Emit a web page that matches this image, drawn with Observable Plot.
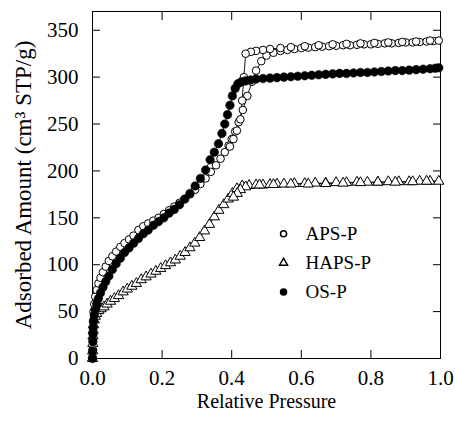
<!DOCTYPE html>
<html><head><meta charset="utf-8">
<script src="https://cdn.jsdelivr.net/npm/d3@7"></script>
<script src="https://cdn.jsdelivr.net/npm/@observablehq/plot@0.6"></script>
<style>body{margin:0;background:#fff}#chart{width:455px;height:430px}</style>
</head><body><div id="chart"></div>
<script>
// APS-P (open circles): adsorption then desorption branch
const apsP_p = [0.000,0.0005,0.001,0.0015,0.002,0.003,0.005,0.008,0.012,0.017,0.023,0.030,0.038,0.047,0.057,0.068,0.080,0.092,0.105,0.118,0.132,0.146,0.160,0.175,0.190,0.205,0.220,0.235,0.250,0.265,0.280,0.295,0.310,0.325,0.340,0.355,0.368,0.380,0.391,0.400,0.410,0.420,0.432,0.445,0.458,0.470,0.485,0.500,0.52,0.54,0.56,0.58,0.60,0.62,0.64,0.66,0.68,0.70,0.72,0.74,0.76,0.78,0.80,0.82,0.84,0.86,0.88,0.90,0.92,0.94,0.96,0.98,0.995,
  0.97,0.93,0.89,0.85,0.81,0.77,0.73,0.69,0.65,0.61,0.57,0.54,0.51,0.49,0.47,0.455,0.44,0.435,0.43,0.425,0.415,0.405,0.395];
const apsP_a = [2,10,20,30,40,50,58,66,73,80,86,92,98,104,109,114,119,123,127,131,137,141,144,147,150,154,158,162,166,170,175,180,186,192,199,206,213,220,227,234,242,252,265,280,295,307,317,323,326,328,329,330,331,331.5,332,332.5,333,333.5,334,334,334.5,335,335,335.5,336,336,336.5,337,337,337.5,338,338.5,339,
  339,338,337.5,337,336.5,336,335.5,335,334,333,332,331,330,329,328,327,325,300,275,255,243,234,226];
// HAPS-P (open triangles)
const hapsP_p = [0.000,0.0005,0.001,0.0015,0.002,0.003,0.005,0.008,0.012,0.018,0.025,0.033,0.042,0.052,0.063,0.075,0.088,0.100,0.113,0.126,0.140,0.154,0.168,0.182,0.196,0.210,0.224,0.238,0.252,0.266,0.280,0.294,0.308,0.322,0.336,0.350,0.363,0.377,0.390,0.402,0.415,0.43,0.45,0.47,0.49,0.51,0.53,0.55,0.58,0.61,0.64,0.67,0.70,0.73,0.76,0.79,0.82,0.85,0.88,0.91,0.94,0.97,0.995,
  0.96,0.92,0.87,0.82,0.77,0.72,0.67,0.62,0.57,0.52,0.48,0.44,0.425,0.416,0.405];
const hapsP_a = [0,8,16,24,30,36,41,45,48,51,53,55,58,61,64,67,71,74,77,80,84,87,90,93,96,99,102,105,109,113,118,123,129,136,143,151,158,164,170,176,181,184,184.5,185,185,185.5,186,186,186.5,186.5,187,187,187.5,187.5,188,188,188,188.5,188.5,188.5,189,189,189,
  189,188.5,188,188,187.5,187,186.5,186,186,185.5,185,183,180,176,172];
// OS-P (filled circles)
const osP_p = [0.000,0.0005,0.001,0.0015,0.002,0.003,0.005,0.008,0.012,0.017,0.023,0.030,0.038,0.047,0.057,0.068,0.080,0.092,0.105,0.118,0.132,0.146,0.160,0.175,0.190,0.205,0.220,0.235,0.250,0.265,0.280,0.295,0.310,0.325,0.338,0.350,0.362,0.372,0.380,0.388,0.395,0.402,0.410,0.418,0.428,0.44,0.455,0.47,0.49,0.51,0.53,0.55,0.57,0.59,0.61,0.63,0.65,0.67,0.69,0.71,0.73,0.75,0.77,0.79,0.81,0.83,0.85,0.87,0.89,0.91,0.93,0.95,0.97,0.985,0.995];
const osP_a = [0,8,18,26,33,40,46,52,58,64,70,76,82,88,95,101,107,113,118,123,128,133,137,142,146,150,155,159,164,170,176,184,192,201,212,220,229,240,250,260,270,280,288,293,295,296,297,298,298.5,299,299.5,300,300.5,301,301.5,302,302.5,303,303.5,304,304,304.5,305,305,305.5,306,306.5,307,307,307.5,308,308.5,309,309.5,310];

const xTicks = [0, 0.2, 0.4, 0.6, 0.8, 1.0];
const yTicks = [0, 50, 100, 150, 200, 250, 300, 350];
const legendNames = ["APS-P", "HAPS-P", "OS-P"];
const legendY = [133, 102, 71];

const rows = (p, a) => p.map((x, i) => ({p: x, a: a[i]}));
const aps = rows(apsP_p, apsP_a), haps = rows(hapsP_p, hapsP_a), os = rows(osP_p, osP_a);
const legend = legendNames.map((n, i) => ({n, y: legendY[i], x: 0.549}));

const chart = Plot.plot({
  width: 455, height: 430,
  marginLeft: 92, marginRight: 15, marginTop: 11, marginBottom: 72,
  x: {domain: [0, 1]},
  y: {domain: [0, 370]},
  style: {fontFamily: "'Liberation Serif', 'Times New Roman', serif", fontSize: "21px", background: "white", color: "black"},
  marks: [
    Plot.frame({stroke: "black", strokeWidth: 1}),
    Plot.axisX({ticks: xTicks, tickFormat: d3.format(".1f"), tickSize: -8, tickPadding: 20, label: null, fontSize: 21}),
    Plot.axisX({anchor: "top", ticks: xTicks, tickSize: -8, tickFormat: () => "", label: null}),
    Plot.axisY({ticks: yTicks, tickSize: -8, tickPadding: 22, label: null, fontSize: 21}),
    Plot.axisY({anchor: "right", ticks: yTicks, tickSize: -8, tickFormat: () => "", label: null}),
    Plot.text(["Relative Pressure"], {frameAnchor: "bottom", dy: 49, fontSize: 20}),
    Plot.text(["Adsorbed Amount (cm³ STP/g)"], {frameAnchor: "left", textAnchor: "middle", rotate: -90, dx: -69, fontSize: 23}),
    Plot.line(aps, {x: "p", y: "a", stroke: "black", strokeWidth: 0.9}),
    Plot.line(haps, {x: "p", y: "a", stroke: "black", strokeWidth: 0.9}),
    Plot.line(os, {x: "p", y: "a", stroke: "black", strokeWidth: 0.9}),
    Plot.dot(haps, {x: "p", y: "a", symbol: "triangle", r: 3.8, fill: "white", stroke: "black", strokeWidth: 1}),
    Plot.dot(aps, {x: "p", y: "a", symbol: "circle", r: 3.8, fill: "white", stroke: "black", strokeWidth: 1}),
    Plot.dot(os, {x: "p", y: "a", symbol: "circle", r: 4.3, fill: "black", stroke: "black", strokeWidth: 0.5}),
    Plot.dot(legend, {x: "x", y: "y", symbol: d => d.n === "HAPS-P" ? "triangle" : "circle", r: d => d.n === "HAPS-P" ? 3.8 : 4, fill: d => d.n === "OS-P" ? "black" : "white", stroke: "black"}),
    Plot.text(legend, {x: "x", y: "y", text: "n", dx: 22, textAnchor: "start", fontSize: 19})
  ]
});
document.getElementById("chart").appendChild(chart);
</script></body></html>
